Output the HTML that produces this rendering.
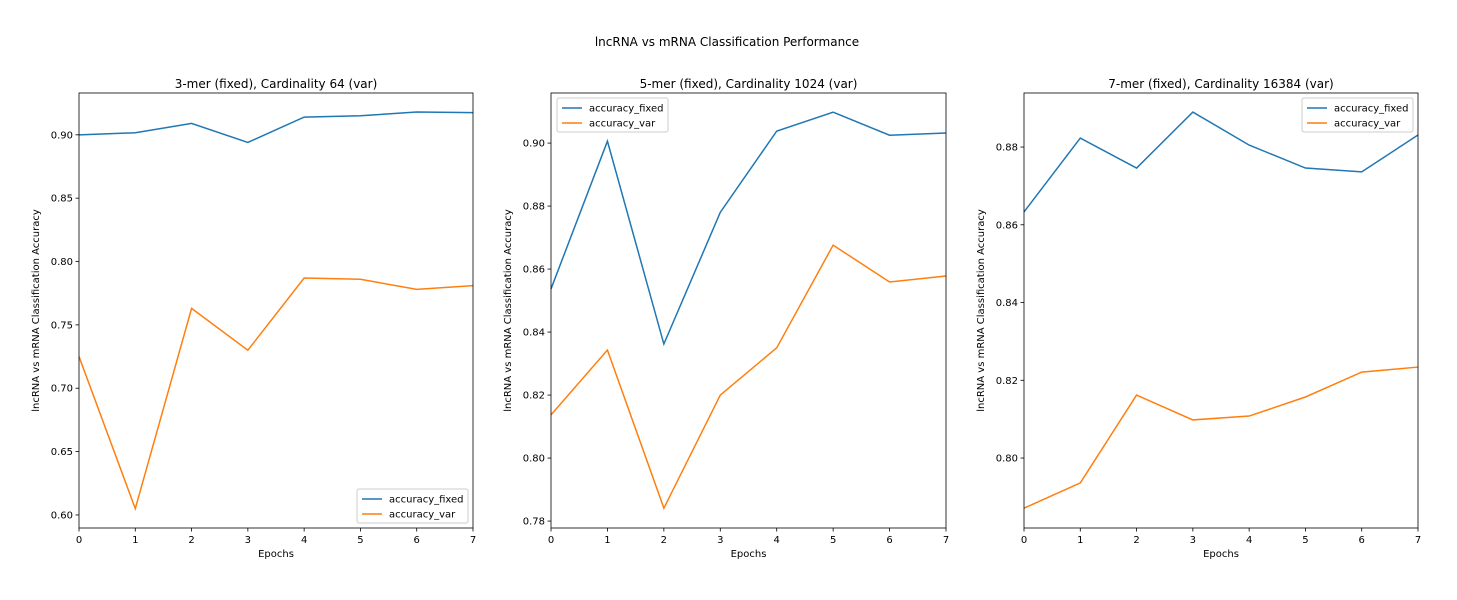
<!DOCTYPE html>
<html><head><meta charset="utf-8"><style>
body{margin:0;background:#fff;font-family:"Liberation Sans","DejaVu Sans",sans-serif}
svg text{font-family:"DejaVu Sans","Liberation Sans",sans-serif;fill:#000}
</style></head><body>
<svg id="c" width="1457" height="595">
<text x="727" y="46" font-size="12" text-anchor="middle">lncRNA vs mRNA Classification Performance</text>
</svg>
<script>
const epochs=[0,1,2,3,4,5,6,7];
const fixed1=[0.900,0.9016,0.909,0.894,0.914,0.915,0.918,0.9175];
const var1=[0.725,0.605,0.763,0.730,0.787,0.786,0.778,0.781];
const fixed2=[0.8537,0.9006,0.8362,0.878,0.9038,0.9098,0.9025,0.9032];
const var2=[0.8137,0.8343,0.7841,0.820,0.835,0.8676,0.8559,0.8578];
const fixed3=[0.8633,0.8823,0.8746,0.8890,0.8805,0.8746,0.8736,0.8831];
const var3=[0.7871,0.7936,0.8162,0.8098,0.8108,0.8157,0.8221,0.8234];
const ticks1=[0.60,0.65,0.70,0.75,0.80,0.85,0.90];
const ticks2=[0.78,0.80,0.82,0.84,0.86,0.88,0.90];
const ticks3=[0.80,0.82,0.84,0.86,0.88];
const titles=["3-mer (fixed), Cardinality 64 (var)","5-mer (fixed), Cardinality 1024 (var)","7-mer (fixed), Cardinality 16384 (var)"];
const NS="http://www.w3.org/2000/svg";
const svg=document.getElementById('c');
function mk(t,a,p){const e=document.createElementNS(NS,t);for(const k in a)e.setAttribute(k,a[k]);(p||svg).appendChild(e);return e;}
const panels=[
 {x0:79,x1:473,f:fixed1,v:var1,ticks:ticks1,ymin:0.5897,ymax:0.933,dec:2,leg:[357,489]},
 {x0:551,x1:946,f:fixed2,v:var2,ticks:ticks2,ymin:0.7778,ymax:0.9159,dec:2,leg:[557,98]},
 {x0:1024,x1:1418,f:fixed3,v:var3,ticks:ticks3,ymin:0.782,ymax:0.8939,dec:2,leg:[1302,98]}
];
const y0=528,y1=93;
panels.forEach((p,i)=>{
 const g=mk('g',{});
 
 
 const X=e=>p.x0+(e-0)/7*(p.x1-p.x0);
 const Y=v=>y0-(v-p.ymin)/(p.ymax-p.ymin)*(y0-y1);
 const t=mk('text',{x:(p.x0+p.x1)/2,y:88,'font-size':12,'text-anchor':'middle'},g);t.textContent=titles[i];
 
 
 epochs.forEach(e=>{
  mk('line',{x1:X(e),x2:X(e),y1:y0,y2:y0+3.5,stroke:'#000','stroke-width':0.8},g);
  const tx=mk('text',{x:X(e),y:y0+15,'font-size':10,'text-anchor':'middle'},g);tx.textContent=e;
  
  
 });
 p.ticks.forEach(v=>{
  mk('line',{x1:p.x0-3.5,x2:p.x0,y1:Y(v),y2:Y(v),stroke:'#000','stroke-width':0.8},g);
  const ty=mk('text',{x:p.x0-6,y:Y(v)+3.5,'font-size':10,'text-anchor':'end'},g);ty.textContent=v.toFixed(p.dec);
  
  
 });
 const xl=mk('text',{x:(p.x0+p.x1)/2,y:557,'font-size':10,'text-anchor':'middle'},g);xl.textContent='Epochs';
 
 
 const cx=p.x0-40,cy=(y0+y1)/2;
 const yl=mk('text',{x:cx,y:cy,'font-size':10,'text-anchor':'middle',transform:`rotate(-90 ${cx} ${cy})`},g);yl.textContent='lncRNA vs mRNA Classification Accuracy';
 
 
 [[p.f,'#1f77b4','line-accuracy-fixed'],[p.v,'#ff7f0e','line-accuracy-var']].forEach(([d,c,n])=>{
  const l=mk('polyline',{points:d.map((v,k)=>X(epochs[k])+','+Y(v)).join(' '),fill:'none',stroke:c,'stroke-width':1.5},g);
  
  
 });
 mk('rect',{x:p.x0,y:y1,width:p.x1-p.x0,height:y0-y1,fill:'none',stroke:'#000','stroke-width':0.8},g);
 const [lx,ly]=p.leg;
 const lg=mk('g',{},g);
 
 
 mk('rect',{x:lx,y:ly,width:111,height:34,rx:2,fill:'#fff',stroke:'#ccc','stroke-width':1},lg);
 [['accuracy_fixed','#1f77b4'],['accuracy_var','#ff7f0e']].forEach(([s,c],k)=>{
  const yy=ly+10+k*15;
  mk('line',{x1:lx+5,x2:lx+25,y1:yy,y2:yy,stroke:c,'stroke-width':1.5},lg);
  const lt=mk('text',{x:lx+32,y:yy+3.5,'font-size':10},lg);lt.textContent=s;
  
  
 });
});
</script>
</body></html>
